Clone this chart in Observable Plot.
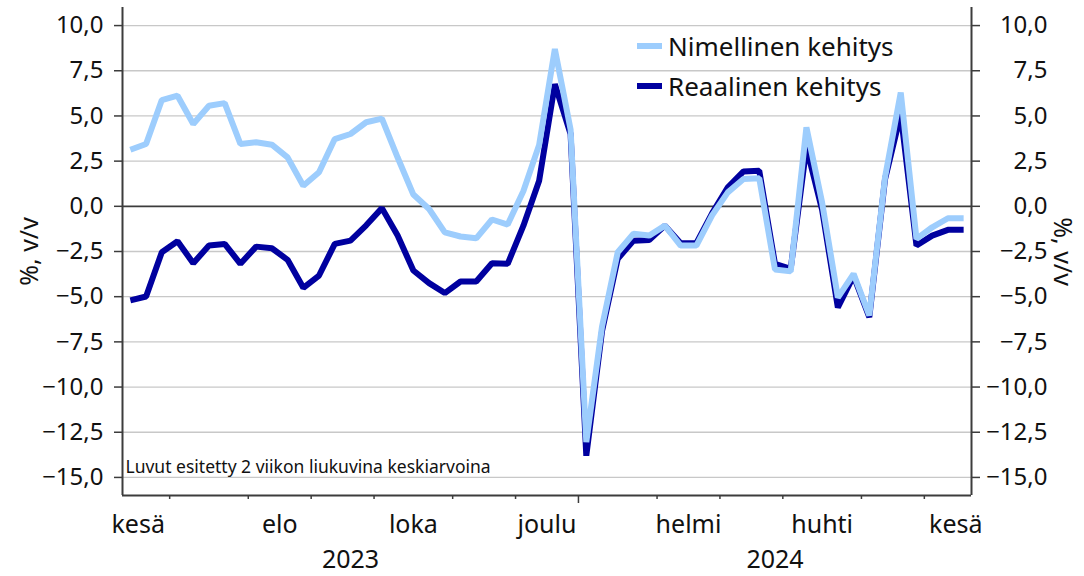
<!DOCTYPE html>
<html><head><meta charset="utf-8">
<script src="https://cdn.jsdelivr.net/npm/d3@7"></script>
<script src="https://cdn.jsdelivr.net/npm/@observablehq/plot@0.6"></script>
<style>
html,body{margin:0;padding:0;background:#fff;}
#wrap{position:relative;width:1084px;height:576px;font-family:"Noto Sans",sans-serif;}
.legend{position:absolute;left:637px;top:26px;}
.item{display:flex;align-items:center;height:40px;font-size:26px;color:#111;white-space:nowrap;}
.sw{width:25px;height:6px;margin-right:6px;}
</style></head><body><div id="wrap"></div>
<script>
// Weekly data: first and last week (Monday) of the series
const firstWeek = "2023-06-12";
const lastWeek = "2024-06-17";

const nimellinen = [3.13, 3.45, 5.88, 6.12, 4.55, 5.56, 5.71, 3.45, 3.54, 3.41,
  2.71, 1.14, 1.88, 3.72, 4.0, 4.65, 4.85, 2.7, 0.65, -0.15,
  -1.44, -1.67, -1.77, -0.73, -1.01, 0.85, 3.4, 8.7, 4.25, -13.05,
  -6.65, -2.54, -1.52, -1.62, -1.07, -2.17, -2.17, -0.5, 0.77, 1.51,
  1.55, -3.5, -3.6, 4.37, 0.2, -5.05, -3.74, -6.04, 1.6, 6.3,
  -1.8, -1.16, -0.66, -0.66];

const reaalinen = [-5.2, -4.99, -2.54, -1.93, -3.15, -2.17, -2.08, -3.18, -2.23, -2.32,
  -2.96, -4.51, -3.83, -2.08, -1.9, -1.05, -0.1, -1.62, -3.55, -4.25,
  -4.8, -4.16, -4.16, -3.15, -3.18, -1.07, 1.42, 6.76, 4.0, -13.8,
  -6.9, -2.9, -1.9, -1.86, -1.07, -2.04, -2.04, -0.39, 1.05, 1.93,
  1.97, -3.18, -3.46, 3.26, -0.2, -5.6, -3.85, -6.13, 1.5, 5.1,
  -2.17, -1.62, -1.3, -1.3];

const seriesNames = ["Nimellinen kehitys", "Reaalinen kehitys"];
const seriesColors = ["#9dcdfd", "#00009f"];
const monthNames = ["tammi","helmi","maalis","huhti","touko","kesä","heinä","elo","syys","loka","marras","joulu"];
const yTicks = [-15, -12.5, -10, -7.5, -5, -2.5, 0, 2.5, 5, 7.5, 10];
const yDomain = [-16, 11];
const yLabel = "%, v/v";
const note = "Luvut esitetty 2 viikon liukuvina keskiarvoina";

// Build table
const mondays = d3.utcMonday.range(new Date(firstWeek), d3.utcDay.offset(new Date(lastWeek), 1));
const data = mondays.map((m, i) => ({
  date: d3.utcHour.offset(m, 84),
  nom: nimellinen[i],
  real: reaalinen[i]
}));
const xDomain = [mondays[0], d3.utcDay.offset(mondays[mondays.length - 1], 7)];

// Month boundaries = first Monday of each month
const months = d3.utcMonth.range(d3.utcMonth.floor(xDomain[0]), d3.utcMonth.offset(xDomain[1], 2));
const bounds = months.map(m => ({m, b: d3.utcMonday.ceil(m)}));
const inside = d => d > xDomain[0] && d < xDomain[1];
const boundaryTicks = bounds.map(d => d.b).filter(inside);
const yearTicks = boundaryTicks.filter(d => bounds.find(x => +x.b === +d).m.getUTCMonth() === 0);
const monthTicks = boundaryTicks.filter(d => !yearTicks.some(y => +y === +d));
const monthLabels = [];
for (let i = 0; i < bounds.length - 1; i++) {
  const mm = bounds[i].m.getUTCMonth();
  const c = new Date((+bounds[i].b + +bounds[i + 1].b) / 2);
  if (mm % 2 === 1 && c >= xDomain[0] && c <= xDomain[1]) monthLabels.push({date: c, label: monthNames[mm]});
}
const years = [...new Set(data.map(d => d.date.getUTCFullYear()))];
const yearLabels = years.map(y => {
  const s = d3.max([xDomain[0], d3.utcMonday.ceil(new Date(Date.UTC(y, 0, 1)))]);
  const e = d3.min([xDomain[1], d3.utcMonday.ceil(new Date(Date.UTC(y + 1, 0, 1)))]);
  return {date: new Date((+s + +e) / 2), label: String(y)};
});

const fmt = d => (d < 0 ? "\u2212" : "") + Math.abs(d).toFixed(1).replace(".", ",");
const axisColor = "#3c3c3c";

const chart = Plot.plot({
  width: 1084, height: 576,
  marginLeft: 122, marginRight: 113, marginTop: 7, marginBottom: 81,
  style: {fontFamily: "'Noto Sans', sans-serif", fontSize: "24px", color: "#111", background: "#fff"},
  x: {type: "utc", domain: xDomain},
  y: {domain: yDomain},
  marks: [
    Plot.gridY(yTicks.filter(d => d !== 0), {stroke: "#c8c8c8", strokeOpacity: 1, strokeWidth: 1.3}),
    Plot.ruleY([0], {stroke: axisColor, strokeWidth: 1.8}),
    Plot.ruleX(xDomain, {stroke: axisColor, strokeWidth: 2}),
    Plot.ruleY([yDomain[0]], {stroke: axisColor, strokeWidth: 2}),
    Plot.axisY(yTicks, {anchor: "left", tickSize: 8, tickPadding: 11, tickFormat: fmt, stroke: axisColor, strokeWidth: 1.5, fontSize: 24, label: null}),
    Plot.axisY(yTicks, {anchor: "right", tickSize: 8, tickPadding: 68, textAnchor: "end", tickFormat: fmt, stroke: axisColor, strokeWidth: 1.5, fontSize: 24, label: null}),
    Plot.axisX(monthTicks, {anchor: "bottom", tickSize: 4, tickFormat: () => "", stroke: axisColor, strokeWidth: 1.5, label: null}),
    Plot.axisX(yearTicks, {anchor: "bottom", tickSize: 8, tickFormat: () => "", stroke: axisColor, strokeWidth: 1.5, label: null}),
    Plot.axisX(monthLabels.map(d => d.date), {anchor: "bottom", tickSize: 0, tickPadding: 20, fontSize: 25,
      tickFormat: d => monthLabels.find(m => +m.date === +d).label, label: null}),
    Plot.axisX(yearLabels.map(d => d.date), {anchor: "bottom", tickSize: 0, tickPadding: 55, fontSize: 25,
      tickFormat: d => yearLabels.find(m => +m.date === +d).label, label: null}),
    Plot.text([note], {frameAnchor: "bottom-left", dx: 3, dy: -23, lineAnchor: "bottom", textAnchor: "start", fontSize: 17.5}),
    Plot.text([yLabel], {frameAnchor: "left", rotate: -90, dx: -85, lineAnchor: "bottom", textAnchor: "middle", fontSize: 25}),
    Plot.text([yLabel], {frameAnchor: "right", rotate: 90, dx: 82, lineAnchor: "bottom", textAnchor: "middle", fontSize: 25}),
    Plot.line(data, {x: "date", y: "real", stroke: seriesColors[1], strokeWidth: 6, strokeLinejoin: "miter", strokeLinecap: "butt"}),
    Plot.line(data, {x: "date", y: "nom", stroke: seriesColors[0], strokeWidth: 6, strokeLinejoin: "miter", strokeLinecap: "butt"})
  ]
});

const wrap = document.getElementById("wrap");
wrap.appendChild(chart);
const legend = document.createElement("div");
legend.className = "legend";
seriesNames.forEach((n, i) => {
  const it = document.createElement("div");
  it.className = "item";
  const sw = document.createElement("span");
  sw.className = "sw";
  sw.style.background = seriesColors[i];
  const t = document.createElement("span");
  t.textContent = n;
  it.appendChild(sw); it.appendChild(t);
  legend.appendChild(it);
});
wrap.appendChild(legend);
</script>
</body></html>
